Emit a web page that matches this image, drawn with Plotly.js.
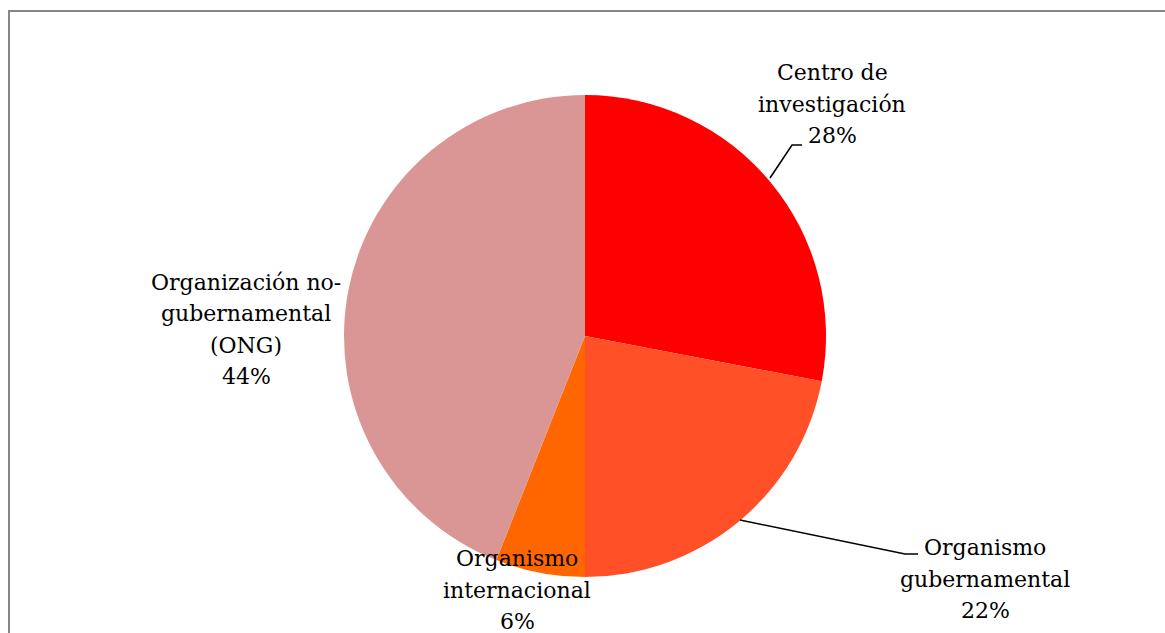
<!DOCTYPE html>
<html>
<head>
<meta charset="utf-8">
<script src="https://cdn.plot.ly/plotly-3.0.1.min.js"></script>
<style>html,body{margin:0;padding:0;background:#fff;}#chart{width:1165px;height:633px;}</style>
</head>
<body>
<div id="chart"></div>
<script>
const categories = ["Centro de investigación", "Organismo gubernamental", "Organismo internacional", "Organización no-gubernamental (ONG)"];
const labelLines = [
  ["Centro de", "investigación"],
  ["Organismo", "gubernamental"],
  ["Organismo", "internacional"],
  ["Organización no-", "gubernamental", "(ONG)"]
];
const values = [28, 22, 6, 44];
const colors = ["#FF0000", "#FF5028", "#FF6600", "#D99694"];

const W = 1165, H = 633;
const px = x => x / W;
const py = y => 1 - y / H;

// label block centres (pixel) and leader lines
const labelPos = [[832, 104], [985, 579], [517, 590], [246, 329.5]];
const lineGap = 31.3;
const leaders = [
  [[770, 178], [792, 145], [802, 145]],
  [[740, 520], [905, 554], [918, 554]],
  null,
  null
];

const annotations = [];
categories.forEach((c, i) => {
  const lines = labelLines[i].concat([values[i] + '%']);
  const n = lines.length;
  lines.forEach((t, k) => {
    const yc = labelPos[i][1] + (k - (n - 1) / 2) * lineGap;
    annotations.push({
      xref: 'paper', yref: 'paper',
      x: px(labelPos[i][0]), y: py(yc),
      xanchor: 'center', yanchor: 'middle',
      text: t,
      showarrow: false,
      font: {family: 'DejaVu Serif, serif', size: 22, color: '#000'}
    });
  });
});

const shapes = [];
leaders.forEach(l => {
  if (!l) return;
  const d = l.map((p, k) => (k ? 'L' : 'M') + px(p[0]) + ',' + py(p[1])).join(' ');
  shapes.push({type: 'path', xref: 'paper', yref: 'paper', path: d, line: {color: '#000', width: 1.6}});
});
shapes.push({type: 'rect', xref: 'paper', yref: 'paper', x0: px(9), x1: 1.05, y0: -0.05, y1: py(11), line: {color: '#868686', width: 2}});

const trace = {
  type: 'pie',
  labels: categories,
  values: values,
  sort: false,
  direction: 'clockwise',
  rotation: 0,
  marker: {colors: colors, line: {width: 0}},
  textinfo: 'none',
  hoverinfo: 'none',
  showlegend: false,
  domain: {x: [px(344), px(826)], y: [py(577), py(95)]}
};

Plotly.newPlot('chart', [trace], {
  width: W, height: H,
  margin: {l: 0, r: 0, t: 0, b: 0},
  paper_bgcolor: '#fff',
  showlegend: false,
  annotations: annotations,
  shapes: shapes
}, {displayModeBar: false, staticPlot: true});
</script>
</body>
</html>
